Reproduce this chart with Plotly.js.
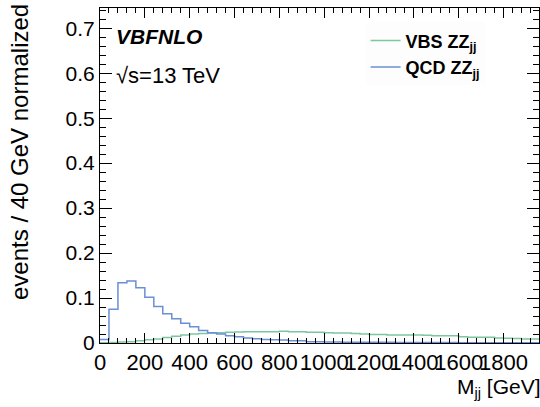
<!DOCTYPE html>
<html>
<head>
<meta charset="utf-8">
<script src="https://cdn.plot.ly/plotly-3.0.1.min.js"></script>
<style>html,body{margin:0;padding:0;background:#fff;}#chart{width:540px;height:407px;}</style>
</head>
<body>
<div id="chart"></div>
<script>
// 40 GeV bins from 0 to 1960 GeV
var binWidth = 40;
var nBins = 49;
var binEdges = [];
for (var i = 0; i <= nBins; i++) binEdges.push(i * binWidth);

// VBS ZZjj normalized events per 40 GeV bin
var vbsValues = [0.0005, 0.001, 0.002, 0.003, 0.005, 0.007, 0.009, 0.012, 0.015, 0.018,
  0.020, 0.021, 0.022, 0.023, 0.024, 0.0245, 0.025, 0.025, 0.025, 0.025,
  0.026, 0.025, 0.025, 0.024, 0.024, 0.023, 0.022, 0.022, 0.021, 0.020,
  0.019, 0.019, 0.018, 0.018, 0.018, 0.018, 0.017, 0.016, 0.016, 0.016,
  0.014, 0.013, 0.013, 0.013, 0.011, 0.0105, 0.010, 0.009, 0.009];

// QCD ZZjj normalized events per 40 GeV bin
var qcdValues = [0.008, 0.075, 0.134, 0.138, 0.123, 0.102, 0.081, 0.065, 0.054, 0.044,
  0.036, 0.028, 0.023, 0.020, 0.016, 0.014, 0.011, 0.0096, 0.008, 0.007,
  0.0067, 0.005, 0.005, 0.003, 0.003, 0.002, 0.002, 0.0015, 0.0015, 0.0015,
  0.0015, 0.0015, 0.0015, 0.0012, 0.0012, 0.0012, 0.0012, 0.0012, 0.0012, 0.0012,
  0.0004, 0.0004, 0.0004, 0.0004, 0.0004, 0.0004, 0.0004, 0.0004, 0.0004];

var seriesNames = ['VBS ZZ<sub>jj</sub>', 'QCD ZZ<sub>jj</sub>'];
var seriesColors = ['#7cc7a0', '#6b8fd6'];

function stepTrace(values, name, color) {
  var y = values.slice();
  y.push(values[values.length - 1]);
  return {
    x: binEdges, y: y, type: 'scatter', mode: 'lines', name: name,
    line: {shape: 'hv', color: color, width: 1.5}, hoverinfo: 'skip'
  };
}

var FONT = 'Liberation Sans, Arial, Helvetica, sans-serif';

var data = [
  stepTrace(vbsValues, seriesNames[0], seriesColors[0]),
  stepTrace(qcdValues, seriesNames[1], seriesColors[1])
];

var layout = {
  width: 540, height: 407,
  margin: {l: 100, r: 1, t: 8, b: 64},
  paper_bgcolor: '#ffffff', plot_bgcolor: '#ffffff',
  font: {family: FONT, color: '#000', size: 20},
  showlegend: true,
  legend: {
    x: 0.605, y: 0.957, xanchor: 'left', yanchor: 'top',
    bgcolor: 'rgba(253,253,253,0.95)', borderwidth: 0,
    font: {family: FONT, size: 18, color: '#000', weight: 'bold'},
    tracegroupgap: 0, itemwidth: 30
  },
  xaxis: {
    range: [0, 1958], showgrid: false, zeroline: false,
    showline: true, linecolor: '#000', linewidth: 1, mirror: 'ticks',
    ticks: 'inside', ticklen: 10, tickcolor: '#000', dtick: 200, tick0: 0,
    tickangle: 0,
    minor: {ticks: 'inside', ticklen: 5, dtick: 40, tickcolor: '#000', showgrid: false},
    tickfont: {family: FONT, size: 22, color: '#000'}, ticklabelstandoff: 0
  },
  yaxis: {
    range: [0, 0.745], showgrid: false, zeroline: false,
    showline: true, linecolor: '#000', linewidth: 1, mirror: 'ticks',
    ticks: 'inside', ticklen: 12, tickcolor: '#000', dtick: 0.1, tick0: 0,
    minor: {ticks: 'inside', ticklen: 6, dtick: 0.02, tickcolor: '#000', showgrid: false},
    tickfont: {family: FONT, size: 21, color: '#000'}
  },
  annotations: [
    {xref: 'paper', yref: 'paper', x: 1, y: 0, xanchor: 'right', yanchor: 'top',
     yshift: -30, xshift: 4, showarrow: false, text: 'M<sub>jj</sub> [GeV]',
     font: {family: FONT, size: 21, color: '#000'}},
    {xref: 'paper', yref: 'paper', x: 0, y: 1, xanchor: 'center', yanchor: 'top',
     xshift: -81, yshift: 6, showarrow: false, textangle: -90,
     text: 'events / 40 GeV normalized',
     font: {family: FONT, size: 24, color: '#000'}},
    {xref: 'paper', yref: 'paper', x: 0, y: 1, xanchor: 'left', yanchor: 'top',
     xshift: 14, yshift: -15, showarrow: false, text: '<b><i>VBFNLO</i></b>',
     font: {family: FONT, size: 21, color: '#000'}},
    {xref: 'paper', yref: 'paper', x: 0, y: 1, xanchor: 'left', yanchor: 'top',
     xshift: 14, yshift: -53, showarrow: false, text: '\u221As=13 TeV',
     font: {family: FONT, size: 22, color: '#000'}}
  ]
};

Plotly.newPlot('chart', data, layout, {staticPlot: true, displayModeBar: false});
</script>
</body>
</html>
